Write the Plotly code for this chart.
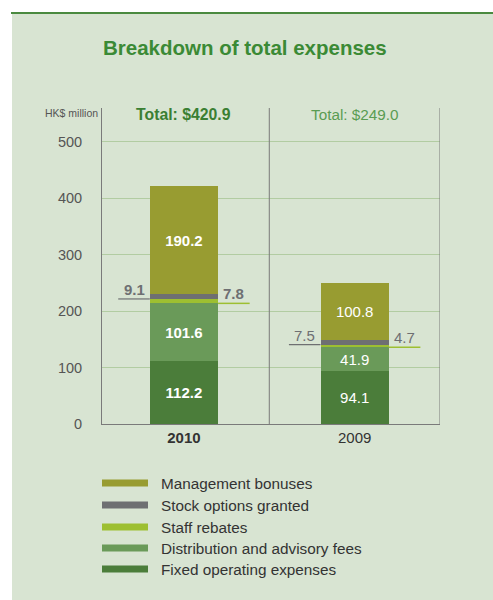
import plotly.graph_objects as go

categories = ["2010", "2009"]
series_names = ["Fixed operating expenses", "Distribution and advisory fees",
                "Staff rebates", "Stock options granted", "Management bonuses"]
fixed = [112.2, 94.1]
distribution = [101.6, 41.9]
rebates = [7.8, 4.7]
stock = [9.1, 7.5]
bonuses = [190.2, 100.8]
totals = [420.9, 249.0]
tick_vals = [0, 100, 200, 300, 400, 500]

series_values = [fixed, distribution, rebates, stock, bonuses]
colors = ["#4b7d3a", "#6a9a59", "#9dbf31", "#6e6f72", "#989c31"]

W, H = 493, 600
L, R, T, B = 102, 440, 108, 424


def px(xp):
    return (xp - L) / (R - L)


def py(yp):
    return (B - yp) / (B - T)


fig = go.Figure()
inside_label = [True, True, False, False, True]
for name, vals, col, lab in zip(series_names, series_values, colors, inside_label):
    if lab:
        txt = ["<b>%.1f</b>" % vals[0], "%.1f" % vals[1]]
    else:
        txt = ["", ""]
    fig.add_trace(go.Bar(
        x=categories, y=vals, name=name, marker=dict(color=col, line=dict(width=0)),
        width=0.4, text=txt, textposition="inside", insidetextanchor="middle",
        textangle=0, textfont=dict(color="white", size=15, family="Liberation Sans, Arial, sans-serif"),
        showlegend=False, hoverinfo="skip"))

shapes = []
annotations = []

# panel background and top rule
shapes.append(dict(type="rect", xref="paper", yref="paper", x0=px(12), x1=px(493),
                   y0=py(14), y1=py(600), fillcolor="#d8e4d2", line=dict(width=0), layer="below"))
shapes.append(dict(type="line", xref="paper", yref="paper", x0=px(11), x1=px(493),
                   y0=py(13), y1=py(13), line=dict(color="#4a8a3f", width=2)))

# vertical separators
for xv in [0.5, 1.5]:
    shapes.append(dict(type="line", xref="x", yref="paper", x0=xv, x1=xv, y0=0, y1=1,
                       line=dict(color="#7a7a7a", width=1)))

# side labels for small segments
half = 0.2
lead = 0.185
for i, cat in enumerate(categories):
    base_stock = fixed[i] + distribution[i] + rebates[i]
    base_reb = fixed[i] + distribution[i]
    bold = (i == 0)
    # stock options: left
    x0 = i - half
    x1 = i - half - lead
    shapes.append(dict(type="line", xref="x", yref="y", x0=x0, x1=x1, y0=base_stock, y1=base_stock,
                       line=dict(color="#6e6f72", width=1.2)))
    t = "%.1f" % stock[i]
    annotations.append(dict(x=(x0 + x1) / 2, y=base_stock, xref="x", yref="y", yanchor="bottom",
                            text=("<b>%s</b>" % t) if bold else t, showarrow=False, yshift=-1,
                            font=dict(size=15, color="#6e6f72")))
    # staff rebates: right
    x0 = i + half
    x1 = i + half + lead
    shapes.append(dict(type="line", xref="x", yref="y", x0=x0, x1=x1, y0=base_reb, y1=base_reb,
                       line=dict(color="#9dbf31", width=1.5)))
    t = "%.1f" % rebates[i]
    annotations.append(dict(x=(x0 + x1) / 2, y=base_reb, xref="x", yref="y", yanchor="bottom",
                            text=("<b>%s</b>" % t) if bold else t, showarrow=False, yshift=-1,
                            font=dict(size=15, color="#6e6f72")))
    # totals
    tt = "Total: $%.1f" % totals[i]
    annotations.append(dict(x=i, y=py(114), xref="x", yref="paper", yanchor="middle",
                            text=("<b>%s</b>" % tt) if bold else tt, showarrow=False,
                            font=dict(size=15.8 if bold else 15.3, color="#3a7f33" if bold else "#5a9c52")))

# title and unit
annotations.append(dict(x=px(245), y=py(47), xref="paper", yref="paper", xanchor="center", yanchor="middle",
                        text="<b>Breakdown of total expenses</b>", showarrow=False,
                        font=dict(size=20.5, color="#3b8a35",
                                  family="Liberation Sans, Arial, sans-serif")))
annotations.append(dict(x=px(100), y=py(113), xref="paper", yref="paper", xanchor="right", yanchor="middle",
                        text="HK$ million", showarrow=False, font=dict(size=10.5, color="#555555")))

# legend (top to bottom = reverse stack order)
row_y = [483, 505, 527, 548, 569]
for k, idx in enumerate([4, 3, 2, 1, 0]):
    yy = row_y[k]
    shapes.append(dict(type="rect", xref="paper", yref="paper", x0=px(102), x1=px(148),
                       y0=py(yy - 3.5), y1=py(yy + 3.5), fillcolor=colors[idx], line=dict(width=0)))
    annotations.append(dict(x=px(159), y=py(yy), xref="paper", yref="paper", xanchor="left", yanchor="middle",
                            text=series_names[idx], showarrow=False, font=dict(size=15.3, color="#333333")))

fig.update_layout(
    width=W, height=H, barmode="stack",
    margin=dict(l=L, r=W - R, t=T, b=H - B, pad=0),
    paper_bgcolor="white", plot_bgcolor="rgba(0,0,0,0)",
    font=dict(family="Liberation Sans, Arial, sans-serif", color="#444444"),
    shapes=shapes, annotations=annotations, showlegend=False,
    xaxis=dict(type="category", range=[-0.48, 1.5], showline=True, linecolor="#7a7a7a", linewidth=1,
               tickvals=categories, ticktext=["<b>2010</b>", "2009"], ticks="",
               tickfont=dict(size=15, color="#333333"), showgrid=False, fixedrange=True),
    yaxis=dict(range=[0, 560], tickvals=tick_vals, showgrid=True, gridcolor="#b2cca2", gridwidth=1,
               showline=True, linecolor="#7a7a7a", linewidth=1, zeroline=False, ticks="",
               ticklabelstandoff=16, tickfont=dict(size=14.5, color="#555555"), fixedrange=True),
)

fig.write_html("out.html")
